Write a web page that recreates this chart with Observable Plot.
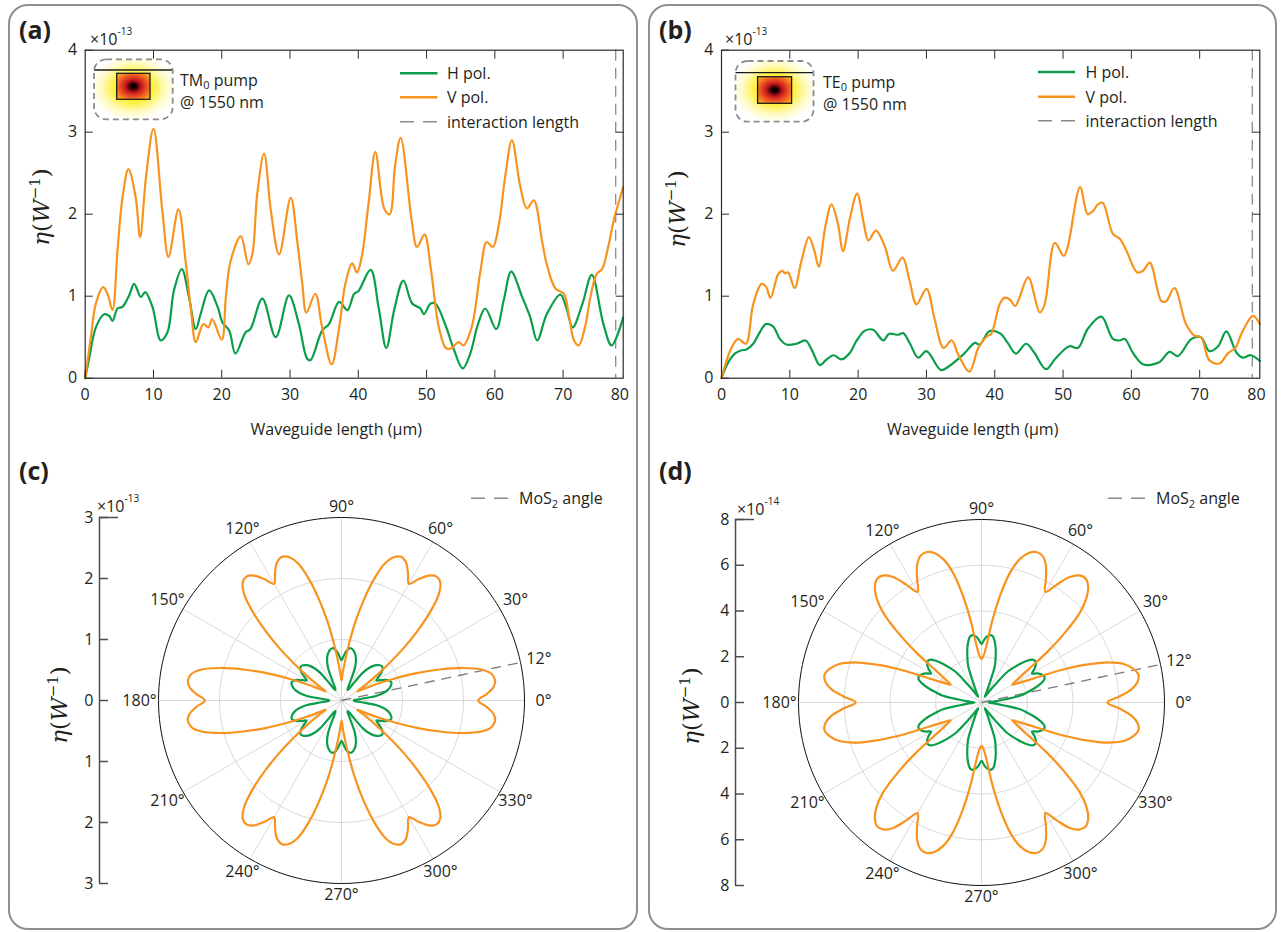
<!DOCTYPE html>
<html>
<head>
<meta charset="utf-8">
<script src="https://cdn.jsdelivr.net/npm/d3@7"></script>
<script src="https://cdn.jsdelivr.net/npm/@observablehq/plot@0.6"></script>
<style>
  html,body{margin:0;padding:0;background:#fff;}
  #fig{position:relative;width:1281px;height:932px;overflow:hidden;font-family:"Open Sans",sans-serif;color:#231f20;}
  .box{position:absolute;border:2px solid #8e8e8e;border-radius:20px;box-sizing:border-box;}
  .panel{position:absolute;}
  #overlay{position:absolute;left:0;top:0;}
</style>
</head>
<body>
<div id="fig">
  <div class="box" style="left:8px;top:4px;width:630px;height:926px"></div>
  <div class="box" style="left:648px;top:4px;width:629px;height:926px"></div>
  <div class="panel" id="pa" style="left:0;top:0"></div>
  <div class="panel" id="pb" style="left:640px;top:0"></div>
  <div class="panel" id="pc" style="left:0;top:460px"></div>
  <div class="panel" id="pd" style="left:640px;top:460px"></div>
  <svg id="overlay" width="1281" height="932" font-family="Open Sans, sans-serif" fill="#231f20" font-size="16">
    <defs>
      <radialGradient id="glow" cx="0.5" cy="0.47" r="0.55">
        <stop offset="0" stop-color="#ffe100"/>
        <stop offset="0.45" stop-color="#fff03c"/>
        <stop offset="0.75" stop-color="#fffbc4"/>
        <stop offset="1" stop-color="#ffffff"/>
      </radialGradient>
      <radialGradient id="core" cx="0.5" cy="0.5" r="0.62">
        <stop offset="0" stop-color="#000000"/>
        <stop offset="0.15" stop-color="#1e0000"/>
        <stop offset="0.38" stop-color="#c4161c"/>
        <stop offset="0.7" stop-color="#ef5a24"/>
        <stop offset="1" stop-color="#f8a51c"/>
      </radialGradient>
    </defs>
    <!-- panel labels -->
    <text x="19" y="39" font-size="25" font-weight="bold">(a)</text>
    <text x="659" y="39" font-size="25" font-weight="bold">(b)</text>
    <text x="19" y="480" font-size="25" font-weight="bold">(c)</text>
    <text x="659" y="480" font-size="25" font-weight="bold">(d)</text>
    <!-- exponent labels -->
    <text x="90" y="45">×10<tspan font-size="10" dy="-10">-13</tspan></text>
    <text x="725" y="45">×10<tspan font-size="10" dy="-10">-13</tspan></text>
    <text x="97" y="512">×10<tspan font-size="10" dy="-10">-13</tspan></text>
    <text x="737" y="515">×10<tspan font-size="10" dy="-10">-14</tspan></text>
    <!-- y titles -->
    <g font-family="DejaVu Serif, serif" font-size="23" text-anchor="middle">
      <text transform="translate(49,207) rotate(-90)"><tspan font-style="italic">η</tspan>(<tspan font-style="italic">W</tspan><tspan font-size="15" dy="-9">−1</tspan><tspan dy="9">)</tspan></text>
      <text transform="translate(685,209) rotate(-90)"><tspan font-style="italic">η</tspan>(<tspan font-style="italic">W</tspan><tspan font-size="15" dy="-9">−1</tspan><tspan dy="9">)</tspan></text>
      <text transform="translate(67,705) rotate(-90)"><tspan font-style="italic">η</tspan>(<tspan font-style="italic">W</tspan><tspan font-size="15" dy="-9">−1</tspan><tspan dy="9">)</tspan></text>
      <text transform="translate(699,706) rotate(-90)"><tspan font-style="italic">η</tspan>(<tspan font-style="italic">W</tspan><tspan font-size="15" dy="-9">−1</tspan><tspan dy="9">)</tspan></text>
    </g>
    <!-- legend (a) -->
    <line x1="400" y1="73.3" x2="437.5" y2="73.3" stroke="#0b9e4a" stroke-width="2.4"/>
    <text x="447" y="79">H pol.</text>
    <line x1="400" y1="97.3" x2="437.5" y2="97.3" stroke="#f7931e" stroke-width="2.4"/>
    <text x="447" y="103">V pol.</text>
    <line x1="400" y1="121.7" x2="437.5" y2="121.7" stroke="#8a8a8a" stroke-width="1.4" stroke-dasharray="14 9"/>
    <text x="447" y="127.5">interaction length</text>
    <!-- legend (b) -->
    <line x1="1038" y1="72" x2="1075" y2="72" stroke="#0b9e4a" stroke-width="2.4"/>
    <text x="1085.5" y="78">H pol.</text>
    <line x1="1038" y1="96.7" x2="1075" y2="96.7" stroke="#f7931e" stroke-width="2.4"/>
    <text x="1085.5" y="102.5">V pol.</text>
    <line x1="1038" y1="120.7" x2="1075" y2="120.7" stroke="#8a8a8a" stroke-width="1.4" stroke-dasharray="14 9"/>
    <text x="1085.5" y="126.5">interaction length</text>
    <!-- legend (c),(d) -->
    <line x1="471" y1="498.3" x2="508" y2="498.3" stroke="#8a8a8a" stroke-width="1.4" stroke-dasharray="14 9"/>
    <text x="519" y="504">MoS<tspan font-size="11" dy="4">2</tspan><tspan dy="-4"> angle</tspan></text>
    <line x1="1108" y1="498.3" x2="1145" y2="498.3" stroke="#8a8a8a" stroke-width="1.4" stroke-dasharray="14 9"/>
    <text x="1156" y="504">MoS<tspan font-size="11" dy="4">2</tspan><tspan dy="-4"> angle</tspan></text>
    <!-- inset (a) -->
    <rect x="94" y="59.3" width="78.7" height="60" rx="12" fill="url(#glow)"/>
    <rect x="116.7" y="73.3" width="33.3" height="26" fill="url(#core)" stroke="#1a1a1a" stroke-width="1.3"/>
    <line x1="94" y1="70" x2="172.7" y2="70" stroke="#1a1a1a" stroke-width="1.3"/>
    <rect x="94" y="59.3" width="78.7" height="60" rx="12" fill="none" stroke="#8c8c8c" stroke-width="1.8" stroke-dasharray="6 4"/>
    <text x="180" y="86">TM<tspan font-size="11" dy="3">0</tspan><tspan dy="-3"> pump</tspan></text>
    <text x="180" y="107.5">@ 1550 nm</text>
    <!-- inset (b) -->
    <rect x="735.5" y="61" width="78" height="60.7" rx="12" fill="url(#glow)"/>
    <rect x="757.6" y="76.7" width="34" height="26.6" fill="url(#core)" stroke="#1a1a1a" stroke-width="1.3"/>
    <line x1="735.5" y1="72.7" x2="813.5" y2="72.7" stroke="#1a1a1a" stroke-width="1.3"/>
    <rect x="735.5" y="61" width="78" height="60.7" rx="12" fill="none" stroke="#8c8c8c" stroke-width="1.8" stroke-dasharray="6 4"/>
    <text x="823" y="88">TE<tspan font-size="11" dy="3">0</tspan><tspan dy="-3"> pump</tspan></text>
    <text x="823" y="110">@ 1550 nm</text>
  </svg>
</div>
<script>
// ---------------- data: panel (a), TM0 pump ----------------
const aH_x = [0,0.6,1.56,2.78,3.5,4.0,4.73,5.46,6.44,7.17,8.15,8.8,9.85,11.07,12.05,13.0,14.15,15.2,16.2,16.9,18.15,19.4,20.1,21.1,22.0,23.5,24.2,25.95,27.9,29.85,31.3,32.5,33.0,34.7,35.7,37.2,38.4,39.4,40.0,41.8,43.0,44.1,45.3,46.6,47.9,49.1,49.6,50.6,51.3,52.8,54.0,55.3,56.4,57.5,58.6,60.2,61.3,62.4,64.0,65.2,66.2,67.6,69.6,70.5,71.4,72.8,74.2,75.9,77.1,78.8];
const aH_y = [0,0.25,0.62,0.78,0.76,0.70,0.85,0.87,1.01,1.15,0.99,1.05,0.87,0.46,0.56,1.07,1.33,0.99,0.60,0.78,1.07,0.87,0.68,0.58,0.30,0.56,0.60,0.97,0.50,1.01,0.66,0.24,0.22,0.58,0.66,0.93,0.83,1.03,1.06,1.32,0.85,0.37,0.85,1.19,0.91,0.85,0.78,0.91,0.91,0.64,0.35,0.12,0.30,0.65,0.85,0.60,0.95,1.30,0.99,0.74,0.46,0.78,1.02,0.85,0.62,0.90,1.26,0.66,0.40,0.74];
const aV_x = [0,0.83,1.56,2.63,3.3,4.0,4.73,5.46,6.34,7.4,8.05,8.9,10.0,11.3,12.2,13.66,14.7,15.5,16.2,17.3,18.05,18.6,20.0,20.6,21.3,22.8,23.9,24.5,25.2,26.2,27.2,28.4,30.1,31.1,31.8,32.4,33.7,34.7,36.1,37.2,38.1,39.1,39.8,40.5,41.5,42.5,43.8,44.6,45.4,46.2,47.8,48.6,49.7,50.6,51.8,52.8,53.5,54.7,55.4,56.6,57.9,58.8,59.7,60.6,61.5,62.5,63.7,64.7,65.7,66.9,67.6,68.9,70.1,70.9,71.6,72.3,73.2,74.0,74.9,75.7,76.7,77.4,78.8];
const aV_y = [0,0.5,0.91,1.11,1.02,0.83,1.56,2.2,2.55,2.2,1.72,2.45,3.04,2.04,1.48,2.06,1.43,0.83,0.44,0.66,0.62,0.72,0.47,0.99,1.43,1.73,1.39,1.52,2.25,2.74,2.04,1.51,2.2,1.64,1.15,0.80,1.03,0.62,0.17,0.62,1.15,1.40,1.29,1.48,2.13,2.76,2.07,2.0,2.6,2.93,1.94,1.6,1.75,1.35,0.62,0.37,0.36,0.44,0.4,0.62,1.31,1.66,1.6,1.88,2.45,2.9,2.35,2.07,2.17,1.68,1.39,1.09,1.03,0.74,0.46,0.4,0.62,0.99,1.27,1.33,1.64,1.92,2.33];

// ---------------- data: panel (b), TE0 pump ----------------
const bH_x = [0,0.9,1.95,2.93,3.66,4.64,5.6,6.5,7.56,8.54,9.5,11.0,12.3,13.3,14.4,15.4,16.4,17.6,18.8,19.8,21.0,22.2,23.7,24.5,25.9,26.6,27.6,28.8,30.0,32.1,33.2,35.4,37.1,37.8,39.0,39.5,40.9,41.9,43.1,44.6,45.8,47.5,48.8,50.9,52.2,53.6,55.6,57.3,58.3,59.0,60.3,61.7,64.0,65.6,66.8,68.8,70.2,71.4,72.7,73.9,75.4,76.3,77.5,78.8];
const bH_y = [0,0.18,0.30,0.34,0.35,0.42,0.56,0.66,0.63,0.48,0.41,0.42,0.46,0.33,0.16,0.23,0.28,0.23,0.31,0.46,0.58,0.59,0.46,0.54,0.53,0.55,0.42,0.25,0.33,0.10,0.14,0.29,0.43,0.41,0.56,0.58,0.54,0.43,0.30,0.42,0.31,0.11,0.23,0.39,0.37,0.60,0.75,0.48,0.46,0.48,0.30,0.17,0.19,0.32,0.27,0.48,0.50,0.33,0.39,0.57,0.31,0.25,0.28,0.21];
const bV_x = [0,0.7,1.46,2.44,3.56,4.64,5.86,6.5,7.17,8.3,8.9,9.3,9.76,10.7,11.7,12.8,13.6,14.25,15.2,16.1,17.0,17.8,18.8,19.86,20.8,21.5,22.6,23.9,25.1,26.5,27.5,28.55,30.0,31.2,32.5,33.7,34.65,36.3,37.6,39.0,39.5,40.7,41.4,42.2,43.0,43.6,44.9,46.6,47.3,48.8,50.1,50.7,52.5,53.6,54.4,55.1,55.8,57.3,58.3,59.2,60.85,61.7,62.7,64.4,65.1,66.3,68.0,69.2,70.2,71.4,72.9,74.1,75.3,76.1,77.8,78.8];
const bV_y = [0,0.2,0.37,0.48,0.42,0.90,1.15,1.12,0.98,1.27,1.31,1.28,1.29,1.10,1.43,1.72,1.55,1.36,1.85,2.12,1.9,1.55,1.95,2.25,1.9,1.68,1.80,1.61,1.31,1.47,1.2,0.90,1.09,0.72,0.37,0.46,0.29,0.08,0.37,0.52,0.54,0.90,0.98,0.96,0.88,0.98,1.23,0.80,0.90,1.65,1.49,1.61,2.33,2.0,2.04,2.12,2.14,1.76,1.70,1.57,1.29,1.31,1.41,0.94,0.94,1.10,0.66,0.52,0.50,0.22,0.18,0.30,0.38,0.54,0.76,0.66];

// ---------------- axes of panels (a),(b) ----------------
const xTicks = [0, 10, 20, 30, 40, 50, 60, 70];
const xEndLabelPos = 78.3;          // where the "80" label sits
const xEndLabel = "80";
const xMax = 78.8;
const interactionLength = 77.7;
const yTicksLine = [0, 1, 2, 3, 4];
const xTitle = "Waveguide length (μm)";

// ---------------- data: polar panels, radius every 2.5° from 0° ----------------
const polarStep = 2.5;
// (c) units of 1e-13
const cV = [2.24,2.38,2.5,2.54,2.5,2.35,2.06,1.69,1.31,0.93,0.64,0.42,0.3,0.42,0.64,0.93,1.31,1.69,2.06,2.36,2.52,2.56,2.5,2.36,2.21,2.36,2.5,2.55,2.5,2.35,2.06,1.69,1.31,0.93,0.64,0.45,
  0.33,
  0.45,0.64,0.93,1.31,1.69,2.06,2.35,2.5,2.55,2.5,2.36,2.21,2.36,2.5,2.56,2.52,2.36,2.06,1.69,1.31,0.93,0.64,0.42,0.3,0.42,0.64,0.93,1.31,1.69,2.06,2.35,2.5,2.54,2.5,2.38,
  2.24,
  2.38,2.5,2.54,2.5,2.35,2.06,1.69,1.31,0.93,0.64,0.42,0.3,0.42,0.64,0.93,1.31,1.69,2.06,2.36,2.52,2.56,2.5,2.36,2.21,2.36,2.5,2.55,2.5,2.35,2.06,1.69,1.31,0.93,0.64,0.45,
  0.33,
  0.45,0.64,0.93,1.31,1.69,2.06,2.35,2.5,2.55,2.5,2.36,2.21,2.36,2.5,2.56,2.52,2.36,2.06,1.69,1.31,0.93,0.64,0.42,0.3,0.42,0.64,0.93,1.31,1.69,2.06,2.35,2.5,2.54,2.5,2.38];
const cH = [0.2,0.22,0.33,0.57,0.69,0.77,0.82,0.855,0.87,0.85,0.8,0.72,0.66,0.72,0.8,0.85,0.87,0.855,0.82,0.77,0.69,0.57,0.33,0.22,0.2,0.22,0.33,0.57,0.69,0.77,0.82,0.855,0.87,0.85,0.8,0.72,
  0.66,
  0.72,0.8,0.85,0.87,0.855,0.82,0.77,0.69,0.57,0.33,0.22,0.2,0.22,0.33,0.57,0.69,0.77,0.82,0.855,0.87,0.85,0.8,0.72,0.66,0.72,0.8,0.85,0.87,0.855,0.82,0.77,0.69,0.57,0.33,0.22,
  0.2,
  0.22,0.33,0.57,0.69,0.77,0.82,0.855,0.87,0.85,0.8,0.72,0.66,0.72,0.8,0.85,0.87,0.855,0.82,0.77,0.69,0.57,0.33,0.22,0.2,0.22,0.33,0.57,0.69,0.77,0.82,0.855,0.87,0.85,0.8,0.72,
  0.66,
  0.72,0.8,0.85,0.87,0.855,0.82,0.77,0.69,0.57,0.33,0.22,0.2,0.22,0.33,0.57,0.69,0.77,0.82,0.855,0.87,0.85,0.8,0.72,0.66,0.72,0.8,0.85,0.87,0.855,0.82,0.77,0.69,0.57,0.33,0.22];
// (d) units of 1e-14
const dV = [5.5,6.04,6.58,6.88,6.97,6.8,6.47,5.83,4.8,3.6,2.43,1.86,1.55,1.86,2.43,3.6,4.8,5.85,6.5,6.9,7.08,7.0,6.68,6.1,5.58,6.1,6.65,6.95,7.0,6.85,6.5,5.85,4.8,3.6,2.5,2.05,
  1.9,
  2.05,2.5,3.6,4.8,5.85,6.5,6.85,7.0,6.95,6.65,6.1,5.58,6.1,6.68,7.0,7.08,6.9,6.5,5.85,4.8,3.6,2.43,1.86,1.55,1.86,2.43,3.6,4.8,5.83,6.47,6.8,6.97,6.88,6.58,6.04,
  5.5,
  6.04,6.58,6.88,6.97,6.8,6.47,5.83,4.8,3.6,2.43,1.86,1.55,1.86,2.43,3.6,4.8,5.85,6.5,6.9,7.08,7.0,6.68,6.1,5.58,6.1,6.65,6.95,7.0,6.85,6.5,5.85,4.8,3.6,2.5,2.05,
  1.9,
  2.05,2.5,3.6,4.8,5.85,6.5,6.85,7.0,6.95,6.65,6.1,5.58,6.1,6.68,7.0,7.08,6.9,6.5,5.85,4.8,3.6,2.43,1.86,1.55,1.86,2.43,3.6,4.8,5.83,6.47,6.8,6.97,6.88,6.58,6.04];
const dH = [0.3,0.38,0.6,1.0,1.71,2.05,2.4,2.7,2.92,2.97,2.9,2.75,2.55,2.75,2.9,2.97,2.92,2.7,2.4,2.05,1.71,1.0,0.6,0.38,0.3,0.38,0.6,1.0,1.71,2.05,2.4,2.7,2.92,2.97,2.9,2.75,
  2.55,
  2.75,2.9,2.97,2.92,2.7,2.4,2.05,1.71,1.0,0.6,0.38,0.3,0.38,0.6,1.0,1.71,2.05,2.4,2.7,2.92,2.97,2.9,2.75,2.55,2.75,2.9,2.97,2.92,2.7,2.4,2.05,1.71,1.0,0.6,0.38,
  0.3,
  0.38,0.6,1.0,1.71,2.05,2.4,2.7,2.92,2.97,2.9,2.75,2.55,2.75,2.9,2.97,2.92,2.7,2.4,2.05,1.71,1.0,0.6,0.38,0.3,0.38,0.6,1.0,1.71,2.05,2.4,2.7,2.92,2.97,2.9,2.75,
  2.55,
  2.75,2.9,2.97,2.92,2.7,2.4,2.05,1.71,1.0,0.6,0.38,0.3,0.38,0.6,1.0,1.71,2.05,2.4,2.7,2.92,2.97,2.9,2.75,2.55,2.75,2.9,2.97,2.92,2.7,2.4,2.05,1.71,1.0,0.6,0.38];

const angleTicks = [0, 30, 60, 90, 120, 150, 180, 210, 240, 270, 300, 330];
const mos2Angle = 12;
const cRadii = [1, 2, 3];
const dRadii = [2, 4, 6, 8];
const cYTicks = [-3, -2, -1, 0, 1, 2, 3];
const dYTicks = [-8, -6, -4, -2, 0, 2, 4, 6, 8];

// ---------------- drawing ----------------
const FONT = '"Open Sans", sans-serif';
const GREEN = "#0b9e4a", ORANGE = "#f7931e", GRID = "#d9d9d9", AXIS = "#2b2b2b";
const baseStyle = {fontFamily: FONT, fontSize: "16px", color: "#231f20", background: "transparent", overflow: "visible"};
const pts = (xs, ys) => xs.map((x, i) => ({x, y: ys[i]}));

function linePanel(hx, hy, vx, vy, ml, mr, w) {
  return Plot.plot({
    width: w, height: 440,
    marginLeft: ml, marginRight: mr, marginTop: 49.7, marginBottom: 62.3,
    x: {domain: [0, xMax]},
    y: {domain: [0, 4]},
    style: baseStyle,
    marks: [
      Plot.ruleX([interactionLength], {stroke: "#8a8a8a", strokeWidth: 1.3, strokeDasharray: "11,7"}),
      Plot.line(pts(hx, hy), {x: "x", y: "y", stroke: GREEN, strokeWidth: 2.2, curve: "catmull-rom"}),
      Plot.line(pts(vx, vy), {x: "x", y: "y", stroke: ORANGE, strokeWidth: 2.2, curve: "catmull-rom"}),
      Plot.frame({stroke: AXIS, strokeWidth: 1.2}),
      Plot.axisX(xTicks, {anchor: "bottom", tickSize: -8, tickFormat: () => "", label: null, stroke: AXIS}),
      Plot.axisX(xTicks.slice(1), {anchor: "top", tickSize: -8, tickFormat: () => "", label: null, stroke: AXIS}),
      Plot.axisX([...xTicks, xEndLabelPos], {anchor: "bottom", tickSize: 0, tickPadding: 10, label: null,
        tickFormat: d => d === xEndLabelPos ? xEndLabel : String(d)}),
      Plot.axisY(yTicksLine, {anchor: "left", tickSize: -8, tickFormat: () => "", label: null, stroke: AXIS}),
      Plot.axisY(yTicksLine.slice(1, -1), {anchor: "right", tickSize: -8, tickFormat: () => "", label: null, stroke: AXIS}),
      Plot.axisY(yTicksLine, {anchor: "left", tickSize: 0, tickPadding: 8, label: null, tickFormat: d => String(d)}),
      Plot.text([xTitle], {frameAnchor: "bottom", lineAnchor: "middle", dy: 52, dx: -18, fontSize: 16})
    ]
  });
}

function polarPanel({H, V, rMax, radii, yTicks, pxPerUnit, ml, mr, mt, mb, w, xh}) {
  const rad = a => a * Math.PI / 180;
  // label distance from centre (in data units): a little further out at the sides, where labels are wider
  const labR = a => (194 + 8 * Math.abs(Math.cos(rad(a)))) / pxPerUnit;
  const toXY = vals => vals.map((r, i) => ({x: r * Math.cos(rad(i * polarStep)), y: r * Math.sin(rad(i * polarStep))}));
  const circle = R => d3.range(0, 361, 2).map(a => ({x: R * Math.cos(rad(a)), y: R * Math.sin(rad(a)), R}));
  const gridPts = radii.slice(0, -1).flatMap(circle);
  const outerPts = circle(rMax);
  const AX = "#4d4d4d";
  return Plot.plot({
    width: w, height: 470,
    marginLeft: ml, marginRight: mr, marginTop: mt, marginBottom: mb,
    x: {domain: [-xh, xh], axis: null},
    y: {domain: [-rMax, rMax]},
    style: baseStyle,
    marks: [
      Plot.line(gridPts, {x: "x", y: "y", z: "R", stroke: GRID, strokeWidth: 1}),
      Plot.link(angleTicks, {x1: 0, y1: 0, x2: a => rMax * Math.cos(rad(a)), y2: a => rMax * Math.sin(rad(a)), stroke: GRID, strokeWidth: 1}),
      Plot.line(outerPts, {x: "x", y: "y", stroke: "#111", strokeWidth: 1}),
      Plot.link([mos2Angle], {x1: 0, y1: 0, x2: a => rMax * Math.cos(rad(a)), y2: a => rMax * Math.sin(rad(a)), stroke: "#7a7a7a", strokeWidth: 1.3, strokeDasharray: "10,7"}),
      Plot.line(toXY(H), {x: "x", y: "y", stroke: GREEN, strokeWidth: 2.2, curve: "catmull-rom-closed"}),
      Plot.line(toXY(V), {x: "x", y: "y", stroke: ORANGE, strokeWidth: 2.2, curve: "catmull-rom-closed"}),
      Plot.text(angleTicks, {x: a => labR(a) * Math.cos(rad(a)), y: a => labR(a) * Math.sin(rad(a)), text: a => `${a}°`}),
      Plot.text([mos2Angle], {x: a => labR(a) * Math.cos(rad(a)), y: a => labR(a) * Math.sin(rad(a)), text: a => `${a}°`}),
      Plot.ruleX([-xh], {y1: -rMax, y2: rMax, stroke: AX, strokeWidth: 1.5}),
      Plot.axisY(yTicks, {anchor: "left", tickSize: -9, tickFormat: () => "", label: null, stroke: AX, strokeWidth: 1.5}),
      Plot.axisY([rMax], {anchor: "left", tickSize: -19, tickFormat: () => "", label: null, stroke: AX, strokeWidth: 1.5}),
      Plot.axisY(yTicks, {anchor: "left", tickSize: 0, tickPadding: 6, label: null, tickFormat: d => String(Math.abs(d))})
    ]
  });
}

document.getElementById("pa").append(linePanel(aH_x, aH_y, aV_x, aV_y, 84.7, 17.3, 640));
document.getElementById("pb").append(linePanel(bH_x, bH_y, bV_x, bV_y, 81, 21.7, 641));
document.getElementById("pc").append(polarPanel({H: cH, V: cV, rMax: 3, radii: cRadii, yTicks: cYTicks, pxPerUnit: 61,
  ml: 99, mr: 57, mt: 57, mb: 47, w: 640, xh: 242 / 61}));
document.getElementById("pd").append(polarPanel({H: dH, V: dV, rMax: 8, radii: dRadii, yTicks: dYTicks, pxPerUnit: 22.875,
  ml: 95, mr: 54, mt: 59, mb: 45, w: 641, xh: 246 / 22.875}));
</script>
</body>
</html>
